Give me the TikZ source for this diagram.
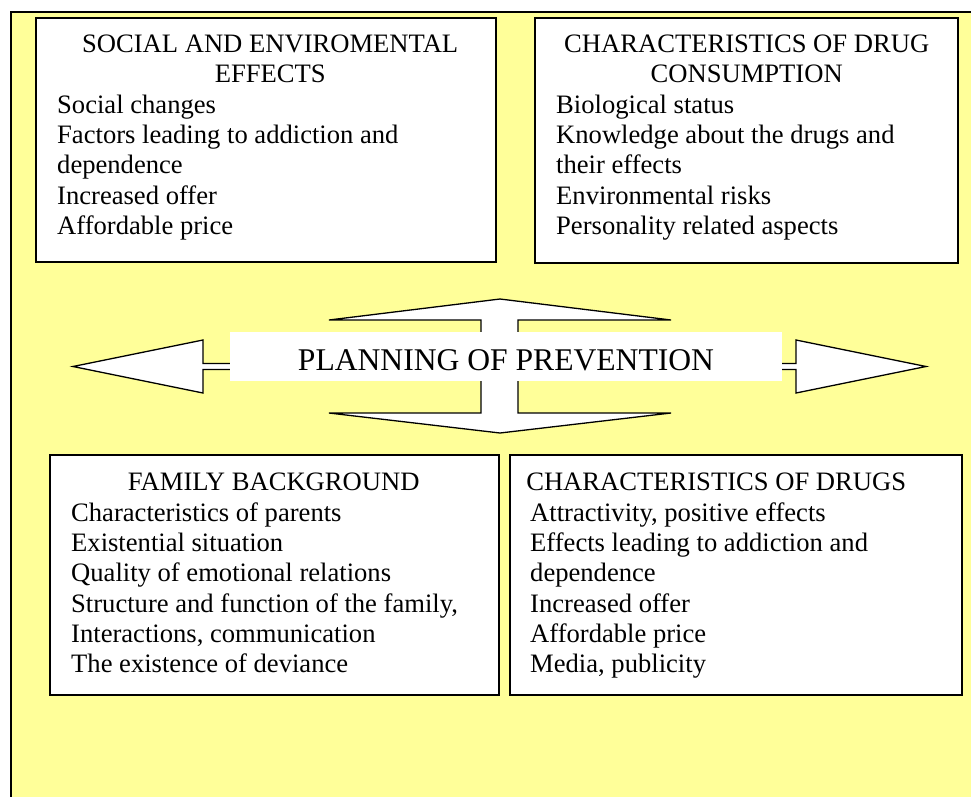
\documentclass[tikz,border=0pt]{standalone}
\usepackage{fontspec}
\setmainfont{Liberation Serif}
\definecolor{bgyellow}{HTML}{FFFF99}
\tikzset{
  boxst/.style={draw=black, line width=1.6pt, fill=white},
  arrst/.style={draw=black, line width=1.3pt, fill=white, line join=miter},
  txt/.style={anchor=north west, inner sep=0pt, align=left, font=\fontsize{26.6}{30.3}\selectfont},
}
\begin{document}
\begin{tikzpicture}[x=1pt,y=-1pt]
\useasboundingbox (0,0) rectangle (971,796);
\clip (0,0) rectangle (971,796);
% background frame
\draw[line width=2pt, fill=bgyellow] (11,12) rectangle (995,820);
% boxes
\draw[boxst] (36,18) rectangle (496,262);
\draw[boxst] (535,18) rectangle (958,263);
\draw[boxst] (50,455) rectangle (499,695);
\draw[boxst] (510,455) rectangle (962,695);
% box texts
\node[txt] (t1) at (57,31.1) {\strut\makebox[426pt]{SOCIAL AND ENVIROMENTAL}\\
  \makebox[426pt]{EFFECTS}\\
  Social changes\\
  Factors leading to addiction and\\
  dependence\\
  Increased offer\\
  Affordable price};
\node[txt] (t2) at (556,31.1) {\strut\makebox[381pt]{CHARACTERISTICS OF DRUG}\\
  \makebox[381pt]{CONSUMPTION}\\
  Biological status\\
  Knowledge about the drugs and\\
  their effects\\
  Environmental risks\\
  Personality related aspects};
\node[txt] (t3) at (71,469.5) {\strut\makebox[405pt]{FAMILY BACKGROUND}\\
  Characteristics of parents\\
  Existential situation\\
  Quality of emotional relations\\
  Structure and function of the family,\\
  Interactions, communication\\
  The existence of deviance};
\node[txt] (t4) at (530,469.5) {\strut\makebox[372pt]{CHARACTERISTICS OF DRUGS}\\
  Attractivity, positive effects\\
  Effects leading to addiction and\\
  dependence\\
  Increased offer\\
  Affordable price\\
  Media, publicity};
% central arrows
\draw[arrst] (500,299) -- (671,320) -- (518,320) -- (518,413) -- (671,413) -- (500,433)
  -- (329,413) -- (481,413) -- (481,320) -- (329,320) -- cycle;
\draw[arrst] (73,366.5) -- (203,340) -- (203,363.5) -- (240,363.5) -- (240,369.5)
  -- (203,369.5) -- (203,393) -- cycle;
\draw[arrst] (926,366.5) -- (796,340) -- (796,363.5) -- (775,363.5) -- (775,369.5)
  -- (796,369.5) -- (796,393) -- cycle;
\node[fill=white, inner xsep=0pt, inner ysep=11pt, minimum width=552pt,
  text height=27pt, text depth=0pt, font=\fontsize{31.6}{36}\selectfont,
  anchor=north] (plan) at (506,332) {PLANNING OF PREVENTION};
\end{tikzpicture}
\end{document}
